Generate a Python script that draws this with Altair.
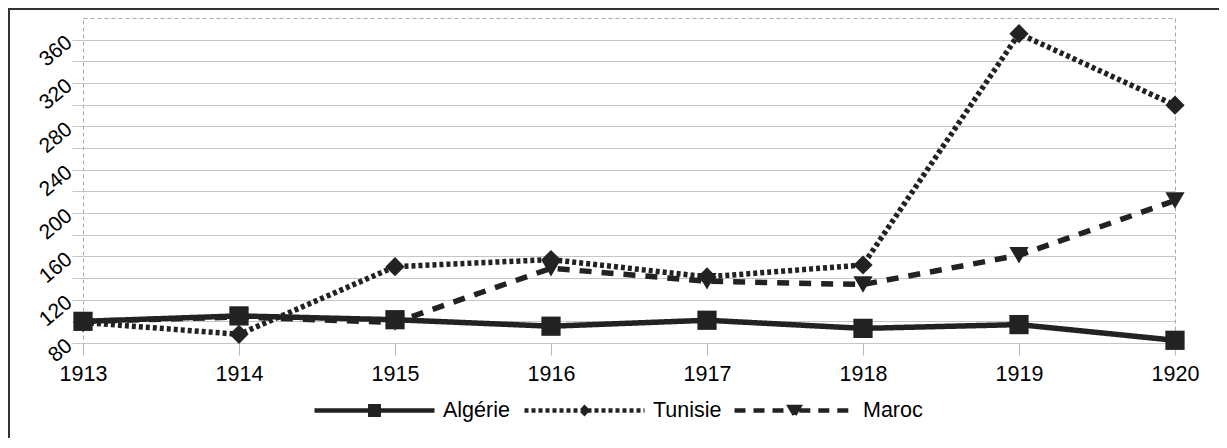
import altair as alt
import pandas as pd

years = [1913, 1914, 1915, 1916, 1917, 1918, 1919, 1920]
algerie = [100, 105, 101.5, 95.5, 101, 93.5, 97, 82.5]
tunisie = [99, 88, 150.5, 157, 141, 152, 365.5, 299.5]
maroc = [100, 104, 99, 149, 137, 134, 161, 211.5]

series_names = ["Algérie", "Tunisie", "Maroc"]
y_ticks = list(range(80, 361, 20))

rows = []
for name, vals in [("Maroc", maroc), ("Tunisie", tunisie), ("Algérie", algerie)]:
    for yr, v in zip(years, vals):
        rows.append({"annee": yr, "valeur": v, "pays": name})
df = pd.DataFrame(rows)

FONT = "Liberation Sans"
FS = 21.5
INK = "#222222"

# legend glyphs: a long line with the series marker in the middle (unit = 60 px)
sq_path = "M-1,0H1M-0.07,-0.07H0.07V0.07H-0.07Z"
di_path = ("M-1,0H-0.05M0.05,0H1"
           "M0,-0.045L0.045,0M0.045,0L0,0.045M0,0.045L-0.045,0M-0.045,0L0,-0.045"
           "M0,-0.045L0.045,0L0,0.045L-0.045,0Z")
tr_path = ("M-1,0H-0.08M0.08,0H1"
           "M-0.075,-0.058L0.075,-0.058M0.075,-0.058L0,0.067M0,0.067L-0.075,-0.058"
           "M-0.075,-0.058L0.075,-0.058L0,0.067Z")

styles = {
    "Algérie": {"dash": [1, 0], "shape": "square", "path": sq_path, "lx": 229},
    "Tunisie": {"dash": [4, 3], "shape": "diamond", "path": di_path, "lx": 439},
    "Maroc": {"dash": [11, 8], "shape": "triangle-down", "path": tr_path, "lx": 649},
}
line_dash = {"Algérie": [1, 0], "Tunisie": [4, 3], "Maroc": [12, 10]}

x_enc = alt.X(
    "annee:Q",
    scale=alt.Scale(domain=[1913, 1920], nice=False, zero=False),
    axis=alt.Axis(
        values=years, format="d", title=None, grid=False, domain=False,
        tickSize=12, tickColor="#b8b8b8", labelPadding=8, labelFlush=False,
        labelFont=FONT, labelFontSize=FS, labelColor="black",
    ),
)
y_enc = alt.Y(
    "valeur:Q",
    scale=alt.Scale(domain=[80, 380], nice=False, zero=False),
    axis=alt.Axis(
        values=y_ticks, title=None, domain=False,
        labelExpr="(datum.value - 80) % 40 == 0 ? datum.label : ''",
        tickSize=11, tickColor="#c6c6c6", gridColor="#c6c6c6", gridWidth=1.2,
        labelAngle=320, labelAlign="right", labelBaseline="middle",
        labelPadding=3, labelFont=FONT, labelFontSize=21, labelColor="black",
    ),
)

line_layers = []
point_layers = []
for name in ["Maroc", "Tunisie", "Algérie"]:
    st = styles[name]
    line_layers.append(
        alt.Chart(df).transform_filter(alt.datum.pays == name)
        .mark_line(color=INK, strokeWidth=5.5, strokeDash=line_dash[name])
        .encode(x=x_enc, y=y_enc)
    )
    leg = alt.Legend(
        orient="none", legendX=st["lx"], legendY=330, title=None,
        symbolType=st["path"], symbolSize=14400, symbolStrokeWidth=4.5,
        symbolStrokeColor=INK, symbolFillColor=INK, symbolOpacity=1,
        symbolDash=st["dash"],
        labelFont=FONT, labelFontSize=FS, labelColor="black", labelOffset=6,
        padding=0,
    )
    point_layers.append(
        alt.Chart(df).transform_filter(alt.datum.pays == name)
        .mark_point(shape=st["shape"], filled=True, opacity=1, size=370)
        .encode(
            x=x_enc, y=y_enc,
            color=alt.Color("pays:N", scale=alt.Scale(domain=[name], range=[INK]), legend=leg),
        )
    )

frame_left = alt.Chart(df).mark_rule(color="#333333", strokeWidth=1.5).encode(
    x=alt.value(-74.5), x2=alt.value(-74.5), y=alt.value(-9.5), y2=alt.value(440)
)
frame_top = alt.Chart(df).mark_rule(color="#333333", strokeWidth=1.5).encode(
    x=alt.value(-74.5), x2=alt.value(1300), y=alt.value(-9.5), y2=alt.value(-9.5)
)

chart = alt.layer(*line_layers, *point_layers, frame_left, frame_top).resolve_scale(
    color="independent"
).resolve_legend(
    color="independent"
).properties(
    width=1092, height=325,
    autosize=alt.AutoSizeParams(type="none"),
    padding={"left": 75, "top": 10, "right": 44, "bottom": 95},
).configure_view(
    stroke="#a8a8a8", strokeDash=[4, 3], strokeWidth=1
)

chart.save("out.html", embed_options={"renderer": "svg", "actions": False})
